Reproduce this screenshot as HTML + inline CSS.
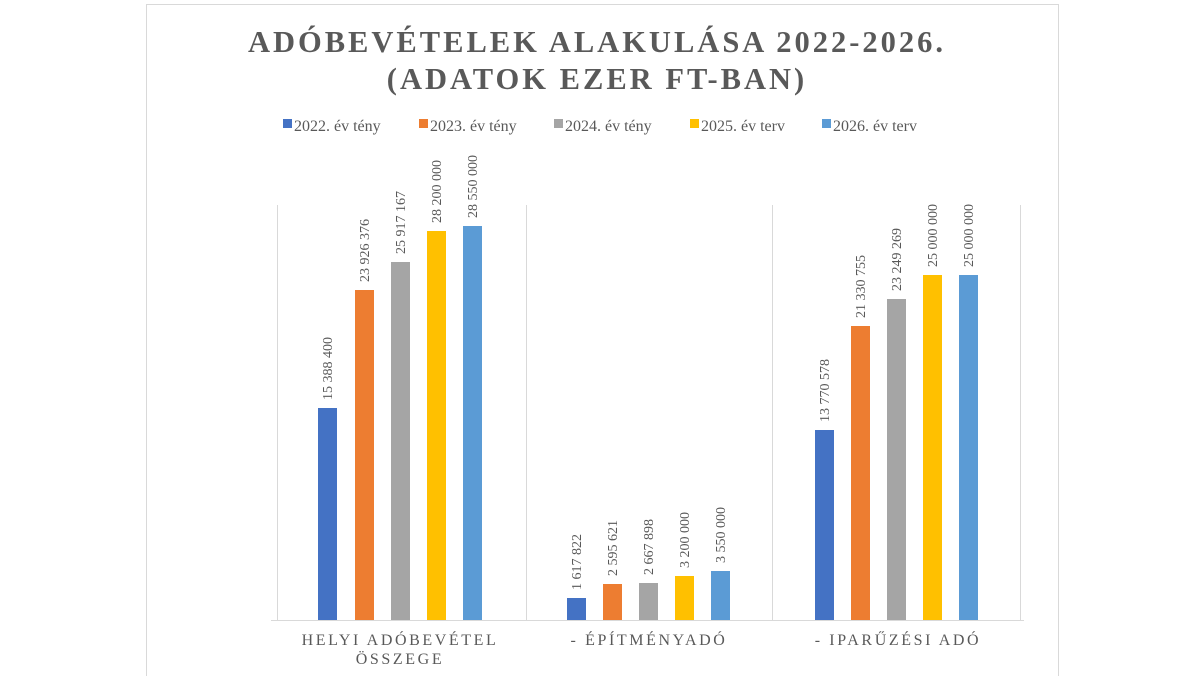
<!DOCTYPE html>
<html><head><meta charset="utf-8"><style>
body{margin:0;background:#fff;width:1200px;height:676px;overflow:hidden}
svg text{font-family:"Liberation Serif",serif;fill:#595959}
</style></head><body>
<svg width="1200" height="676" viewBox="0 0 1200 676">
<rect x="146.5" y="4.5" width="912" height="680" fill="#fff" stroke="#d9d9d9"/>
<text x="597" y="52" text-anchor="middle" font-size="30.5" font-weight="bold" letter-spacing="3">ADÓBEVÉTELEK ALAKULÁSA 2022-2026.</text>
<text x="597" y="89" text-anchor="middle" font-size="30.5" font-weight="bold" letter-spacing="3">(ADATOK EZER FT-BAN)</text>
<g font-size="16">
<rect x="283" y="119" width="9" height="9" fill="#4472c4"/><text x="294" y="131">2022. év tény</text>
<rect x="419" y="119" width="9" height="9" fill="#ed7d31"/><text x="430" y="131">2023. év tény</text>
<rect x="554" y="119" width="9" height="9" fill="#a5a5a5"/><text x="565" y="131">2024. év tény</text>
<rect x="690" y="119" width="9" height="9" fill="#ffc000"/><text x="701" y="131">2025. év terv</text>
<rect x="822" y="119" width="9" height="9" fill="#5b9bd5"/><text x="833" y="131">2026. év terv</text>
</g>
<g stroke="#d9d9d9" stroke-width="1">
<line x1="271" y1="620.5" x2="1024" y2="620.5"/>
<line x1="277.5" y1="205" x2="277.5" y2="620"/>
<line x1="526.5" y1="205" x2="526.5" y2="620"/>
<line x1="772.5" y1="205" x2="772.5" y2="620"/>
<line x1="1020.5" y1="205" x2="1020.5" y2="620"/>
</g>
<g font-size="16" letter-spacing="2.6" text-anchor="middle">
<text x="400" y="645">HELYI ADÓBEVÉTEL</text>
<text x="400" y="664">ÖSSZEGE</text>
<text x="649" y="645">- ÉPÍTMÉNYADÓ</text>
<text x="898" y="645">- IPARŰZÉSI ADÓ</text>
</g>
<g font-size="14">
<rect x="318" y="408" width="19" height="212" fill="#4472c4"/><text transform="translate(332,400) rotate(-90)">15 388 400</text>
<rect x="355" y="290" width="19" height="330" fill="#ed7d31"/><text transform="translate(369,282) rotate(-90)">23 926 376</text>
<rect x="391" y="262" width="19" height="358" fill="#a5a5a5"/><text transform="translate(405,254) rotate(-90)">25 917 167</text>
<rect x="427" y="231" width="19" height="389" fill="#ffc000"/><text transform="translate(441,223) rotate(-90)">28 200 000</text>
<rect x="463" y="226" width="19" height="394" fill="#5b9bd5"/><text transform="translate(477,218) rotate(-90)">28 550 000</text>

<rect x="567" y="598" width="19" height="22" fill="#4472c4"/><text transform="translate(581,590) rotate(-90)">1 617 822</text>
<rect x="603" y="584" width="19" height="36" fill="#ed7d31"/><text transform="translate(617,576) rotate(-90)">2 595 621</text>
<rect x="639" y="583" width="19" height="37" fill="#a5a5a5"/><text transform="translate(653,575) rotate(-90)">2 667 898</text>
<rect x="675" y="576" width="19" height="44" fill="#ffc000"/><text transform="translate(689,568) rotate(-90)">3 200 000</text>
<rect x="711" y="571" width="19" height="49" fill="#5b9bd5"/><text transform="translate(725,563) rotate(-90)">3 550 000</text>

<rect x="815" y="430" width="19" height="190" fill="#4472c4"/><text transform="translate(829,422) rotate(-90)">13 770 578</text>
<rect x="851" y="326" width="19" height="294" fill="#ed7d31"/><text transform="translate(865,318) rotate(-90)">21 330 755</text>
<rect x="887" y="299" width="19" height="321" fill="#a5a5a5"/><text transform="translate(901,291) rotate(-90)">23 249 269</text>
<rect x="923" y="275" width="19" height="345" fill="#ffc000"/><text transform="translate(937,267) rotate(-90)">25 000 000</text>
<rect x="959" y="275" width="19" height="345" fill="#5b9bd5"/><text transform="translate(973,267) rotate(-90)">25 000 000</text>
</g>
</svg>
</body></html>
